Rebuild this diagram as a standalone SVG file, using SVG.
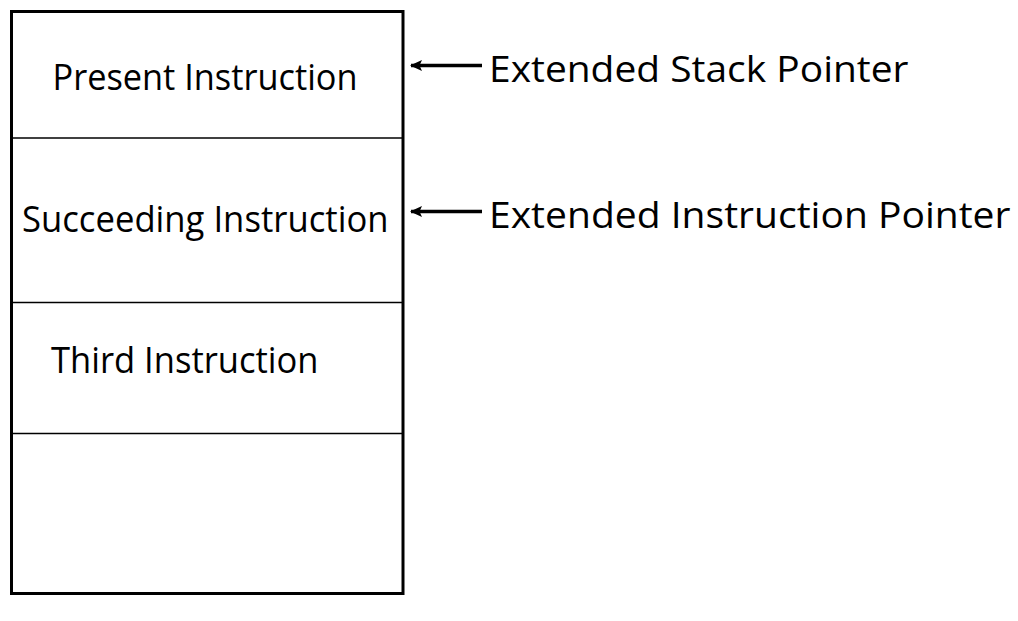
<svg xmlns="http://www.w3.org/2000/svg" width="1018" height="621" viewBox="0 0 1018 621">
  <style>
    .cell { fill: none; stroke: #000; stroke-width: 1.5; }
    .frame { fill: none; stroke: #000; stroke-width: 3; }
    .lbl { font-family: "Open Sans", "Noto Sans", "Liberation Sans", sans-serif; font-size: 37px; fill: #000; }
    .conn { stroke: #000; stroke-width: 3.5; fill: none; }
  </style>
  <defs>
    <marker id="ah" viewBox="0 0 12 11" refX="11" refY="5.5" markerWidth="12" markerHeight="11" markerUnits="userSpaceOnUse" orient="auto">
      <path d="M0,0 L12,5.5 L0,11 L2.5,5.5 Z" fill="#000"/>
    </marker>
  </defs>
  <rect width="1018" height="621" fill="#fff"/>
  <g id="stack">
    <rect class="frame" x="11.5" y="11.5" width="391.5" height="582"/>
    <g id="cell-present">
      <text class="lbl" x="52.5" y="90" textLength="305" lengthAdjust="spacingAndGlyphs">Present Instruction</text>
    </g>
    <g id="cell-succeeding">
      <line class="cell" x1="11.5" y1="138" x2="403" y2="138"/>
      <text class="lbl" x="22" y="231.5" textLength="366.5" lengthAdjust="spacingAndGlyphs">Succeeding Instruction</text>
    </g>
    <g id="cell-third">
      <line class="cell" x1="11.5" y1="302.5" x2="403" y2="302.5"/>
      <text class="lbl" x="51" y="372.5" textLength="267.5" lengthAdjust="spacingAndGlyphs">Third Instruction</text>
    </g>
    <g id="cell-empty">
      <line class="cell" x1="11.5" y1="433.5" x2="403" y2="433.5"/>
    </g>
  </g>
  <g id="esp">
    <text class="lbl" x="489" y="82" textLength="419.5" lengthAdjust="spacingAndGlyphs">Extended Stack Pointer</text>
  </g>
  <g id="eip">
    <text class="lbl" x="489" y="228" textLength="521.5" lengthAdjust="spacingAndGlyphs">Extended Instruction Pointer</text>
  </g>
  <g id="connectors">
    <line class="conn" x1="482" y1="65.5" x2="411" y2="65.5" marker-end="url(#ah)"/>
    <line class="conn" x1="482" y1="211.5" x2="411" y2="211.5" marker-end="url(#ah)"/>
  </g>
</svg>
